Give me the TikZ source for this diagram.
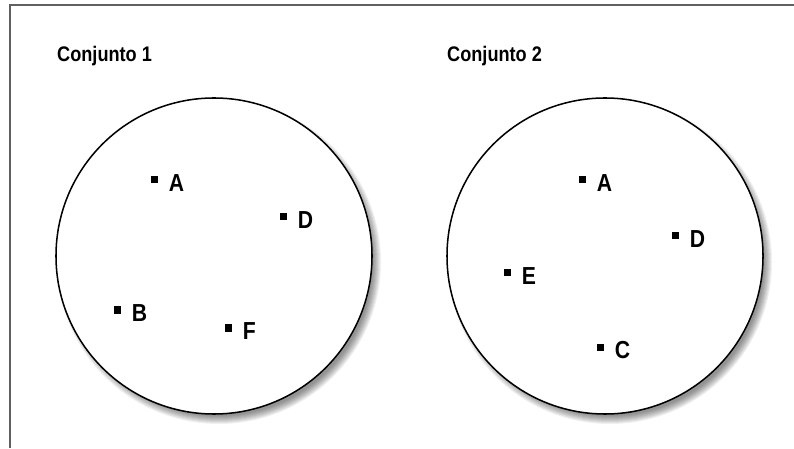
\documentclass[tikz,border=0pt]{standalone}
\usepackage{fontspec}
\setmainfont{Liberation Sans}
\newfontfamily\headfont[FakeStretch=0.86]{Liberation Sans}
\usetikzlibrary{positioning}

\tikzset{
  setcircle/.style={draw=black, line width=1.3pt, fill=white},
  dot/.style={fill=black, minimum size=0.21cm, inner sep=0pt},
  ptlabel/.style={font=\headfont\bfseries\fontsize{21}{21}\selectfont, inner sep=0pt, yshift=-0.09cm},
  heading/.style={font=\headfont\bfseries\fontsize{18}{18}\selectfont, anchor=base west, inner sep=0pt},
  every label/.style={label distance=0.33cm}
}

\begin{document}
\begin{tikzpicture}[x=0.03cm, y=0.03cm]
    \useasboundingbox (0,0) rectangle (794,448);
    % Frame
    \draw[gray!75!black, line width=1.6pt] (10,0) -- (10,443) -- (794,443);

    % Soft shadows
    \foreach \cx in {214,605}{
      \foreach \i in {1,...,9}
        \fill[black, opacity=0.06] (\cx+5,186) circle (163-\i);
    }

    % Sets
    \node[setcircle, circle, minimum size=9.48cm] (set1) at (214,192) {};
    \node[setcircle, circle, minimum size=9.48cm] (set2) at (605,192) {};

    % Headings
    \node[heading] (head1) at (57,386) {Conjunto 1};
    \node[heading] (head2) at (447,386) {Conjunto 2};

    % Elements of set 1
    \node[dot, label={[ptlabel]right:A}] (a1) at (154,268) {};
    \node[dot, label={[ptlabel]right:D}] (d1) at (283,231) {};
    \node[dot, label={[ptlabel]right:B}] (b1) at (117,138) {};
    \node[dot, label={[ptlabel]right:F}] (f1) at (228,120) {};

    % Elements of set 2
    \node[dot, label={[ptlabel]right:A}] (a2) at (582,268) {};
    \node[dot, label={[ptlabel]right:D}] (d2) at (675,212) {};
    \node[dot, label={[ptlabel]right:E}] (e2) at (507,175) {};
    \node[dot, label={[ptlabel]right:C}] (c2) at (600,101) {};
\end{tikzpicture}
\end{document}
